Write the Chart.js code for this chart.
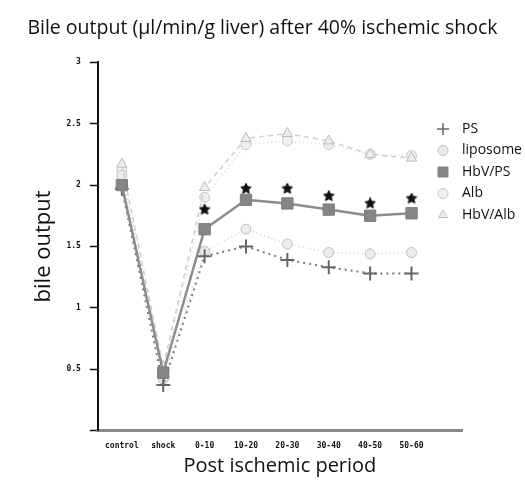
<!DOCTYPE html>
<html>
<head>
<meta charset="utf-8">
<script src="https://cdn.jsdelivr.net/npm/chart.js"></script>
<style>
  html, body { margin: 0; padding: 0; background: #fff; }
  #wrap { width: 525px; height: 487px; }
</style>
</head>
<body>
<div id="wrap"><canvas id="chart"></canvas></div>
<script>
// Categories (x axis)
const periods = ["control", "shock", "0-10", "10-20", "20-30", "30-40", "40-50", "50-60"];

// Series values (bile output)
const psValues       = [1.97, 0.37, 1.42, 1.50, 1.39, 1.33, 1.28, 1.28];
const liposomeValues = [2.08, 0.42, 1.46, 1.64, 1.52, 1.45, 1.44, 1.45];
const hbvPsValues    = [2.00, 0.47, 1.64, 1.88, 1.85, 1.80, 1.75, 1.77];
const albValues      = [2.12, 0.50, 1.90, 2.33, 2.36, 2.33, 2.25, 2.24];
const hbvAlbValues   = [2.17, 0.52, 1.98, 2.38, 2.42, 2.36, 2.25, 2.22];

// significance stars above HbV/PS (null = none)
const starValues = [null, null, 1.80, 1.97, 1.97, 1.91, 1.85, 1.89];

// y tick labels
const yTicks = [0.5, 1, 1.5, 2, 2.5, 3];

const toPoints = (arr) => arr.map((v, i) => ({ x: i, y: v }));

const FONT = "'Open Sans', 'Noto Sans', sans-serif";
const TICK_FONT = { family: "'DejaVu Sans Mono', monospace", size: 8, weight: "bold" };

// small five pointed star used as point style
function makeStar(size, color) {
  const c = document.createElement("canvas");
  c.width = size;
  c.height = size;
  const g = c.getContext("2d");
  const r = size / 2, ri = r * 0.45;
  g.beginPath();
  for (let k = 0; k < 10; k++) {
    const a = -Math.PI / 2 + (k * Math.PI) / 5;
    const rr = k % 2 === 0 ? r - 0.5 : ri;
    g.lineTo(r + rr * Math.cos(a), r + rr * Math.sin(a));
  }
  g.closePath();
  g.fillStyle = color;
  g.fill();
  g.strokeStyle = color;
  g.lineWidth = 1;
  g.stroke();
  return c;
}

// Legend drawn at the upper right, partly over the plot
const sideLegend = {
  id: "sideLegend",
  afterDraw(chart) {
    const ctx = chart.ctx;
    const items = chart.data.datasets.filter((d) => !d.noLegend);
    ctx.save();
    ctx.font = "14px " + FONT;
    ctx.textBaseline = "middle";
    items.forEach((ds, i) => {
      const y = 129 + i * 21.5;
      ctx.fillStyle = ds.pointBackgroundColor;
      ctx.strokeStyle = ds.pointBorderColor;
      ctx.lineWidth = ds.pointStyle === "cross" ? 1.5 : 1;
      Chart.helpers.drawPoint(ctx, {
        pointStyle: ds.pointStyle,
        radius: ds.legendRadius,
        rotation: 0,
        borderWidth: 1,
      }, 443, y);
      ctx.fillStyle = "#111";
      ctx.fillText(ds.label, 462, y);
    });
    ctx.restore();
  },
};

new Chart(document.getElementById("chart").getContext("2d"), {
  type: "line",
  data: {
    datasets: [
      {
        label: "PS",
        data: toPoints(psValues),
        borderColor: "#7a7a7a",
        borderWidth: 2,
        borderDash: [2, 4],
        pointStyle: "cross",
        pointRadius: 7,
        pointBorderWidth: 2,
        pointBorderColor: "#666",
        pointBackgroundColor: "#666",
        legendRadius: 6,
        order: 2,
      },
      {
        label: "liposome",
        data: toPoints(liposomeValues),
        borderColor: "#d0d0d0",
        borderWidth: 1.5,
        borderDash: [1, 3],
        pointStyle: "circle",
        pointRadius: 5,
        pointBorderWidth: 1,
        pointBorderColor: "#bdbdbd",
        pointBackgroundColor: "#ececec",
        legendRadius: 5,
        order: 4,
      },
      {
        label: "HbV/PS",
        data: toPoints(hbvPsValues),
        borderColor: "#8c8c8c",
        borderWidth: 2.5,
        pointStyle: "rect",
        pointRadius: 8,
        pointBorderWidth: 1,
        pointBorderColor: "#7d7d7d",
        pointBackgroundColor: "#858585",
        legendRadius: 7,
        order: 1,
      },
      {
        label: "Alb",
        data: toPoints(albValues),
        borderColor: "#d8d8d8",
        borderWidth: 1.5,
        borderDash: [1, 3],
        pointStyle: "circle",
        pointRadius: 5,
        pointBorderWidth: 1,
        pointBorderColor: "#c4c4c4",
        pointBackgroundColor: "#f0f0f0",
        legendRadius: 5,
        order: 5,
      },
      {
        label: "HbV/Alb",
        data: toPoints(hbvAlbValues),
        borderColor: "#cfcfcf",
        borderWidth: 1.5,
        borderDash: [5, 4],
        pointStyle: "triangle",
        pointRadius: 6,
        pointBorderWidth: 1,
        pointBorderColor: "#bcbcbc",
        pointBackgroundColor: "#eeeeee",
        legendRadius: 5,
        order: 3,
      },
      {
        label: "*",
        data: toPoints(starValues),
        showLine: false,
        pointStyle: makeStar(12, "#111"),
        pointRadius: 6,
        noLegend: true,
        order: 0,
      },
    ],
  },
  options: {
    responsive: true,
    maintainAspectRatio: false,
    animation: false,
    layout: { padding: { left: 0, right: 0, top: 0, bottom: 9 } },
    scales: {
      x: {
        type: "linear",
        min: -0.58,
        max: 8.22,
        grid: { display: false, drawTicks: false },
        border: { color: "#8a8a8a", width: 3 },
        afterBuildTicks: (axis) => {
          axis.ticks = periods.map((p, i) => ({ value: i }));
        },
        ticks: {
          padding: 11,
          font: TICK_FONT,
          color: "#111",
          callback: (v) => periods[v],
        },
        title: {
          display: true,
          text: "Post ischemic period",
          font: { family: FONT, size: 20 },
          color: "#111",
          padding: { top: -8, bottom: 0 },
        },
      },
      y: {
        min: 0,
        max: 3,
        grid: { drawOnChartArea: false, tickLength: 8, color: "#111", tickWidth: 1.5 },
        border: { color: "#111", width: 2 },
        afterBuildTicks: (axis) => {
          axis.ticks = [{ value: 0 }].concat(yTicks.map((v) => ({ value: v })));
        },
        ticks: {
          padding: 9,
          font: TICK_FONT,
          color: "#111",
          callback: (v) => (v === 0 ? "" : String(v)),
        },
        title: {
          display: true,
          text: "bile output",
          font: { family: FONT, size: 22 },
          color: "#111",
          padding: { top: 31, bottom: 0 },
        },
      },
      // empty right axis that only keeps room for the legend
      yRoom: {
        position: "right",
        display: true,
        grid: { display: false, drawTicks: false },
        border: { display: false },
        ticks: { display: false },
        afterFit: (axis) => { axis.width = 63; },
      },
    },
    plugins: {
      legend: { display: false },
      tooltip: { enabled: false },
      title: {
        display: true,
        text: "Bile output (\u00b5l/min/g liver) after 40% ischemic shock",
        font: { family: FONT, size: 19.5, weight: "normal" },
        color: "#111",
        padding: { top: 17, bottom: 22 },
      },
    },
  },
  plugins: [sideLegend],
});
</script>
</body>
</html>
